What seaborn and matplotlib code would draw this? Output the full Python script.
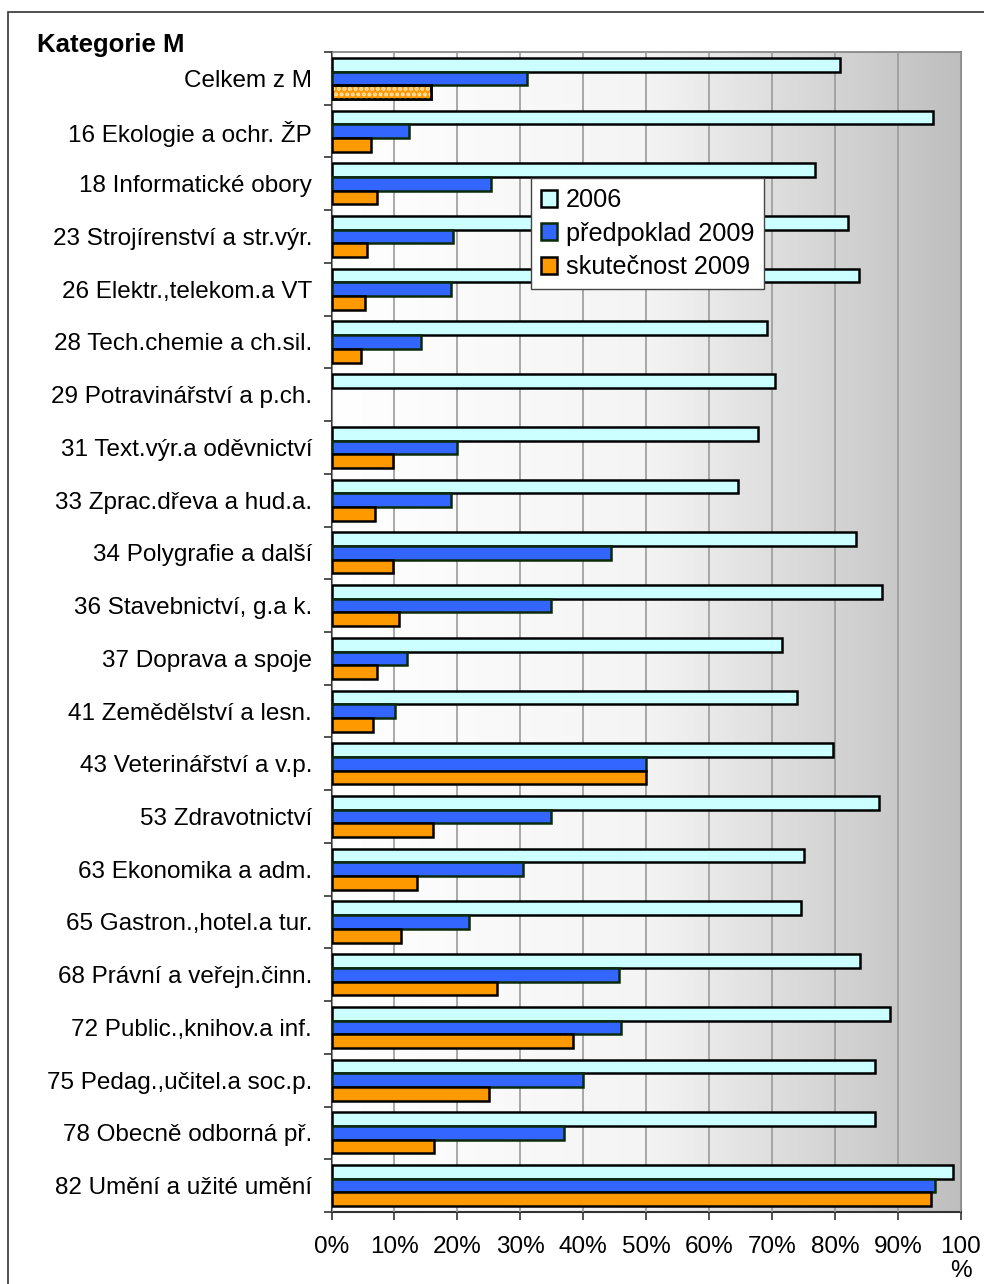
import numpy as np
import pandas as pd
import matplotlib
matplotlib.use("Agg")
import matplotlib.pyplot as plt
import seaborn as sns
from matplotlib.patches import Patch, Rectangle
from matplotlib.colors import LinearSegmentedColormap

# ---------------- data ----------------
categories = [
    "Celkem z M",
    "16 Ekologie a ochr. ŽP",
    "18 Informatické obory",
    "23 Strojírenství a str.výr.",
    "26 Elektr.,telekom.a VT",
    "28 Tech.chemie a ch.sil.",
    "29 Potravinářství a p.ch.",
    "31 Text.výr.a oděvnictví",
    "33 Zprac.dřeva a hud.a.",
    "34 Polygrafie a další",
    "36 Stavebnictví, g.a k.",
    "37 Doprava a spoje",
    "41 Zemědělství a lesn.",
    "43 Veterinářství a v.p.",
    "53 Zdravotnictví",
    "63 Ekonomika a adm.",
    "65 Gastron.,hotel.a tur.",
    "68 Právní a veřejn.činn.",
    "72 Public.,knihov.a inf.",
    "75 Pedag.,učitel.a soc.p.",
    "78 Obecně odborná př.",
    "82 Umění a užité umění",
]
series_names = ["2006", "předpoklad 2009", "skutečnost 2009"]
values_2006 = [80.7, 95.6, 76.8, 82.0, 83.8, 69.2, 70.5, 67.7, 64.5, 83.3, 87.4,
               71.5, 74.0, 79.7, 87.0, 75.0, 74.6, 83.9, 88.7, 86.4, 86.3, 98.8]
values_pred = [31.0, 12.3, 25.3, 19.3, 19.0, 14.2, np.nan, 20.0, 19.0, 44.4, 34.9,
               12.0, 10.1, 49.9, 34.9, 30.5, 21.9, 45.7, 46.0, 40.0, 37.0, 95.9]
values_skut = [15.8, 6.2, 7.2, 5.6, 5.3, 4.7, np.nan, 9.7, 6.9, 9.7, 10.7,
               7.3, 6.6, 49.9, 16.2, 13.6, 11.1, 26.3, 38.4, 25.0, 16.3, 95.2]
x_ticks = [0, 10, 20, 30, 40, 50, 60, 70, 80, 90, 100]
x_tick_labels = ["0%", "10%", "20%", "30%", "40%", "50%", "60%", "70%", "80%", "90%", "100\n%"]
title_text = "Kategorie M"

# ---------------- styling ----------------
face_colors = ["#CCFFFF", "#3366FF", "#FF9900"]
edge_colors = ["#000000", "#0A2A0A", "#000000"]
FS = 17.5

sns.set_style("white")
plt.rcParams["font.family"] = ["Liberation Sans", "DejaVu Sans"]
plt.rcParams["hatch.linewidth"] = 2.0
plt.rcParams["text.color"] = "black"
plt.rcParams["xtick.color"] = "black"
plt.rcParams["ytick.color"] = "black"

df = pd.DataFrame({
    "kategorie": np.tile(categories, 3),
    "serie": np.repeat(series_names, len(categories)),
    "hodnota": np.concatenate([values_2006, values_pred, values_skut]),
})

fig = plt.figure(figsize=(9.84, 12.84), dpi=100)
ax = fig.add_axes([331.5 / 984, 1 - 1212 / 1284, (961 - 331.5) / 984, (1212 - 52) / 1284])

sns.barplot(data=df, y="kategorie", x="hodnota", hue="serie", order=categories,
            hue_order=series_names, palette=face_colors, saturation=1, orient="h",
            errorbar=None, width=0.78, gap=0, ax=ax, legend=False, zorder=3)

for cont, ec in zip(ax.containers, edge_colors):
    for p in cont:
        p.set_edgecolor(ec)
        p.set_linewidth(1.8)

# dotted pattern on the "Celkem" actual bar
p0 = ax.containers[2][0]
ax.add_patch(Rectangle((p0.get_x(), p0.get_y()), p0.get_width(), p0.get_height(),
                       facecolor="none", edgecolor="#FFE9C0", hatch="...", linewidth=0,
                       zorder=4))
ax.add_patch(Rectangle((p0.get_x(), p0.get_y()), p0.get_width(), p0.get_height(),
                       facecolor="none", edgecolor="black", linewidth=1.8, zorder=5))

n = len(categories)
# gradient background
cmap = LinearSegmentedColormap.from_list("bg", ["#FFFFFF", "#F4F4F4", "#BEBEBE"])
grad = np.linspace(0, 1, 512).reshape(1, -1)
ax.imshow(grad, cmap=cmap, aspect="auto", extent=[0, 1, 0, 1],
          transform=ax.transAxes, zorder=0, interpolation="bilinear")

ax.set_xlim(0, 100)
ax.set_ylim(n - 0.5, -0.5)
ax.set_xticks(x_ticks)
ax.set_xticklabels(x_tick_labels, fontsize=FS, linespacing=1.15)
ax.xaxis.grid(True, color="#9A9A9A", linewidth=1.2, zorder=1)
ax.yaxis.grid(False)
ax.set_axisbelow(False)
for gl in ax.get_xgridlines():
    gl.set_zorder(1)

ax.set_yticks(np.arange(n))
ax.set_yticklabels(categories, fontsize=FS)
ax.set_yticks(np.arange(n + 1) - 0.5, minor=True)
ax.tick_params(axis="y", which="major", length=0, pad=14)
ax.tick_params(axis="y", which="minor", length=6, width=1.2, color="#333333", left=True)
ax.tick_params(axis="x", which="major", length=6, width=1.2, color="#333333",
               bottom=True, pad=11)
ax.set_xlabel("")
ax.set_ylabel("")

for s in ["left", "bottom"]:
    ax.spines[s].set_color("#333333")
    ax.spines[s].set_linewidth(1.5)
for s in ["top", "right"]:
    ax.spines[s].set_visible(True)
    ax.spines[s].set_color("#7F7F7F")
    ax.spines[s].set_linewidth(1.2)

handles = [Patch(facecolor=fc, edgecolor=ec, linewidth=1.8, label=lbl)
           for fc, ec, lbl in zip(face_colors, edge_colors, series_names)]
leg = ax.legend(handles=handles, loc="upper left", bbox_to_anchor=(0.317, 0.891),
                borderaxespad=0, fontsize=18.2, frameon=True, fancybox=False,
                framealpha=1, edgecolor="#444444", handlelength=0.65,
                handleheight=0.65, handletextpad=0.35, labelspacing=0.38,
                borderpad=0.38)
leg.get_frame().set_linewidth(1.0)
leg.set_zorder(10)

# title and outer frame
fig.text(37 / 984, 1 - 45 / 1284, title_text, fontsize=18.5, fontweight="bold",
         ha="left", va="center")
fig.patches.append(Rectangle((8 / 984, -0.5), 2, 0.5 + 1 - 12 / 1284,
                             transform=fig.transFigure, facecolor="none",
                             edgecolor="#333333", linewidth=1.2))

fig.savefig("out.png", dpi=100, facecolor="white")
